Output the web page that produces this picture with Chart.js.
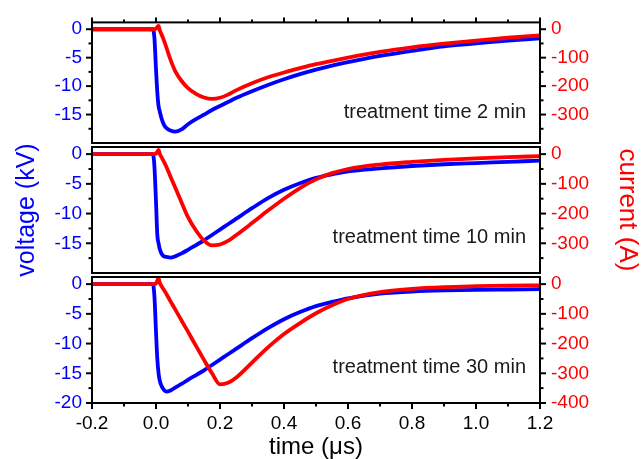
<!DOCTYPE html>
<html><head><meta charset="utf-8">
<script src="https://cdn.jsdelivr.net/npm/chart.js@4.4.1/dist/chart.umd.min.js"></script>
<style>
html,body{margin:0;padding:0;background:#fff;}
#wrap{position:relative;width:643px;height:459px;overflow:hidden;background:#fff;}
canvas{position:absolute;left:0;top:0;}
</style></head><body>
<div id="wrap">
<canvas id="c1" width="643" height="459"></canvas>
<canvas id="c2" width="643" height="459"></canvas>
<canvas id="c3" width="643" height="459"></canvas>
</div>
<script>
// ---- data (time in microseconds) ----
const time = [-0.2, -0.1, -0.01, -0.005, 0, 0.004, 0.008, 0.012, 0.018, 0.025, 0.033,
  0.045, 0.06, 0.08, 0.1, 0.125, 0.15, 0.175, 0.2, 0.225, 0.25,
  0.3, 0.35, 0.4, 0.45, 0.5, 0.55, 0.6, 0.7, 0.8, 0.9, 1.0, 1.1, 1.2];

const voltage2min = [0, 0, 0, -1.5, -7, -11, -13.5, -14.5, -15.8, -16.8, -17.4,
  -17.8, -18.0, -17.6, -16.7, -15.8, -15.0, -14.2, -13.5, -12.8, -12.1,
  -10.9, -9.8, -8.8, -7.9, -7.1, -6.4, -5.8, -4.7, -3.8, -3.0, -2.5, -2.0, -1.6];
const current2min = [0, 0, 0, 0, 2, 8, 12, -4, -20, -40, -66,
  -106, -147, -182, -207, -227, -240, -245, -241, -230, -215,
  -190, -169, -152, -137, -123, -111, -100, -80, -64, -51, -40, -30, -22];

const voltage10min = [0, 0, 0, -2, -8, -13.5, -15.0, -16.0, -16.8, -17.2, -17.3,
  -17.4, -17.2, -16.7, -16.1, -15.3, -14.5, -13.6, -12.7, -11.8, -10.9,
  -9.1, -7.4, -6.0, -4.9, -4.0, -3.4, -2.9, -2.4, -2.0, -1.7, -1.5, -1.3, -1.1];
const current10min = [0, 0, 0, 0, 2, 8, 14, 0, -12, -26, -44,
  -75, -112, -163, -212, -257, -291, -307, -304, -292, -273,
  -232, -190, -150, -114, -85, -64, -50, -35, -26, -19, -14, -10, -7];

const voltage30min = [0, 0, 0, -2, -8, -12.5, -15.0, -16.3, -17.2, -17.8, -18.1,
  -17.9, -17.4, -16.8, -16.1, -15.3, -14.5, -13.6, -12.7, -11.8, -10.9,
  -9.1, -7.4, -5.9, -4.7, -3.7, -3.0, -2.4, -1.6, -1.25, -1.05, -0.95, -0.9, -0.85];
const current30min = [0, 0, 0, 0, 3, 12, 20, 4, -8, -20, -34,
  -57, -85, -123, -160, -208, -255, -300, -337, -332, -315,
  -264, -213, -168, -131, -98, -71, -50, -27, -16, -10, -7, -5, -4];

const panelLabels = ['treatment time 2 min', 'treatment time 10 min', 'treatment time 30 min'];

// ---- tick labels ----
const xTicks = [-0.2, 0.0, 0.2, 0.4, 0.6, 0.8, 1.0, 1.2];
const xMinorTicks = [-0.1, 0.1, 0.3, 0.5, 0.7, 0.9, 1.1];
const voltageTicks = [0, -5, -10, -15];
const voltageTicksLast = [0, -5, -10, -15, -20];
const voltageMinorTicks = [-2.5, -7.5, -12.5, -17.5];
const currentTicks = [0, -100, -200, -300];
const currentTicksLast = [0, -100, -200, -300, -400];
const currentMinorTicks = [-50, -150, -250, -350];

const BLUE = '#0000ff', RED = '#ff0000';
Chart.defaults.font.family = "'Liberation Sans', Arial, Helvetica, sans-serif";

const panelPlugin = {
  id: 'panelFrame',
  afterDatasetsDraw(chart, args, o) {
    const {ctx, chartArea: a, scales} = chart;
    const x = scales.x, yv = scales.yv, yi = scales.yi;
    ctx.save();
    ctx.strokeStyle = '#000';
    ctx.lineWidth = 2;
    ctx.lineCap = 'butt';
    const ln = (x1, y1, x2, y2) => { ctx.beginPath(); ctx.moveTo(x1, y1); ctx.lineTo(x2, y2); ctx.stroke(); };
    ctx.strokeRect(a.left, a.top, a.right - a.left, a.bottom - a.top);
    o.vMajor.forEach(v => { const p = yv.getPixelForValue(v); ln(a.left - 6, p, a.left, p); });
    voltageMinorTicks.forEach(v => { const p = yv.getPixelForValue(v); ln(a.left - 3.5, p, a.left, p); });
    o.iMajor.forEach(v => { const p = yi.getPixelForValue(v); ln(a.right, p, a.right + 6, p); });
    currentMinorTicks.forEach(v => { const p = yi.getPixelForValue(v); ln(a.right, p, a.right + 3.5, p); });
    if (o.top) {
      xTicks.forEach(v => { const p = x.getPixelForValue(v); ln(p, a.top - 5, p, a.top); });
      xMinorTicks.forEach(v => { const p = x.getPixelForValue(v); ln(p, a.top - 3, p, a.top); });
    }
    if (o.bottom) {
      xTicks.forEach(v => { const p = x.getPixelForValue(v); ln(p, a.bottom, p, a.bottom + 6); });
      xMinorTicks.forEach(v => { const p = x.getPixelForValue(v); ln(p, a.bottom, p, a.bottom + 3.5); });
    }
    ctx.fillStyle = '#1a1a1a';
    ctx.font = "20px 'Liberation Sans', Arial, sans-serif";
    ctx.textAlign = 'right';
    ctx.textBaseline = 'alphabetic';
    ctx.fillText(o.text, a.right - 14, a.top + 96);
    ctx.restore();
  }
};

function makeChart(id, volt, curr, label, cfg) {
  const toPts = arr => time.map((t, i) => ({x: t, y: arr[i]}));
  return new Chart(document.getElementById(id), {
    type: 'line',
    data: {
      datasets: [
        {label: 'current', data: toPts(curr), yAxisID: 'yi', borderColor: RED, backgroundColor: RED,
         borderWidth: 3.8, pointRadius: 0, order: 0, cubicInterpolationMode: 'monotone'},
        {label: 'voltage', data: toPts(volt), yAxisID: 'yv', borderColor: BLUE, backgroundColor: BLUE,
         borderWidth: 3.8, pointRadius: 0, order: 1, cubicInterpolationMode: 'monotone'}
      ]
    },
    options: {
      responsive: false, animation: false, events: [],
      layout: {padding: {top: cfg.padTop, bottom: cfg.padBottom, left: 0, right: 0}},
      plugins: {
        legend: {display: false}, tooltip: {enabled: false},
        panelFrame: {text: label, top: cfg.top, bottom: cfg.last,
          vMajor: cfg.last ? voltageTicksLast : voltageTicks,
          iMajor: cfg.last ? currentTicksLast : currentTicks}
      },
      scales: {
        x: {
          type: 'linear', min: -0.2, max: 1.2, display: cfg.last,
          grid: {display: false, drawTicks: false}, border: {display: false},
          afterBuildTicks: s => { s.ticks = xTicks.map(v => ({value: v})); },
          afterFit: s => { if (cfg.last) s.height = 56; },
          ticks: {padding: 9, color: '#000', font: {size: 19}, autoSkip: false, maxRotation: 0,
                  callback: v => Number(v).toFixed(1)},
          title: {display: cfg.last, text: 'time (μs)', color: '#000', font: {size: 24, lineHeight: 1}, padding: 0}
        },
        yv: {
          type: 'linear', position: 'left', min: -20, max: 1.2,
          grid: {display: false, drawTicks: false}, border: {display: false},
          afterBuildTicks: s => { s.ticks = (cfg.last ? voltageTicksLast : voltageTicks).map(v => ({value: v})); },
          afterFit: s => { s.width = 92; },
          ticks: {padding: 10, color: BLUE, font: {size: 19}, autoSkip: false, callback: v => String(v)},
          title: {display: cfg.titles, text: 'voltage (kV)', color: BLUE, font: {size: 25}, padding: {top: 12, bottom: 0}}
        },
        yi: {
          type: 'linear', position: 'right', min: -400, max: 24,
          grid: {display: false, drawTicks: false}, border: {display: false},
          afterBuildTicks: s => { s.ticks = (cfg.last ? currentTicksLast : currentTicks).map(v => ({value: v})); },
          afterFit: s => { s.width = 103; },
          ticks: {padding: 11, color: RED, font: {size: 19}, autoSkip: false, callback: v => String(v)},
          title: {display: cfg.titles, text: 'current (A)', color: RED, font: {size: 26}, padding: {top: 0, bottom: 0}}
        }
      }
    },
    plugins: [panelPlugin]
  });
}

makeChart('c1', voltage2min, current2min, panelLabels[0], {padTop: 17, padBottom: 316, top: true, last: false, titles: false});
makeChart('c2', voltage10min, current10min, panelLabels[1], {padTop: 147, padBottom: 186, top: false, last: false, titles: true});
makeChart('c3', voltage30min, current30min, panelLabels[2], {padTop: 277, padBottom: 0, top: false, last: true, titles: false});
</script>
</body></html>
